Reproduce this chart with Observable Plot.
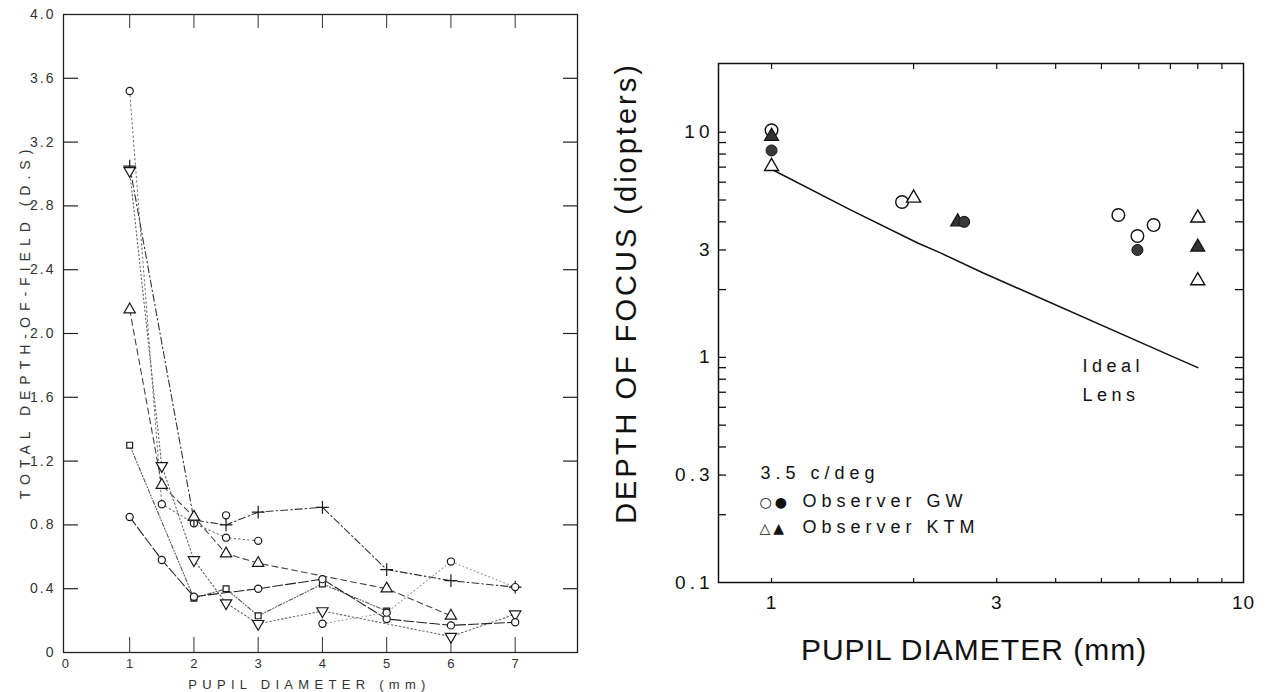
<!DOCTYPE html>
<html><head><meta charset="utf-8">
<script src="https://cdn.jsdelivr.net/npm/d3@7"></script>
<script src="https://cdn.jsdelivr.net/npm/@observablehq/plot@0.6"></script>
<style>
html,body{margin:0;padding:0;background:#fff;}
#wrap{position:relative;width:1269px;height:692px;overflow:hidden;background:#fff;}
#left{position:absolute;left:0;top:0;width:600px;height:692px;}
#right{position:absolute;left:600px;top:0;width:669px;height:692px;}
#left g[aria-label="y-axis tick label"] text{letter-spacing:2px;}
#left g[aria-label="x-axis tick label"] text{letter-spacing:0px;}
#left g[aria-description="ytitle"] text{letter-spacing:6px;}
#left g[aria-description="xtitle"] text{letter-spacing:5.3px;}
#right g[aria-label="y-axis tick label"] text{letter-spacing:4px;}
#right g[aria-label="x-axis tick label"] text{letter-spacing:1px;}
#right g[aria-description="ytitle"] text{letter-spacing:3px;}
#right g[aria-description="xtitle"] text{letter-spacing:1px;}
#right g[aria-description="legend"] text{letter-spacing:5px;}
#right g[aria-description="legendsym"] text{letter-spacing:3px;}
#right g[aria-description="ideal"] text{letter-spacing:4.5px;}
</style></head><body>
<div id="wrap"><div id="left"></div><div id="right"></div></div>
<script>
// ---------------- LEFT PANEL DATA ----------------
const pupilX = [1, 1.5, 2, 2.5, 3, 4, 5, 6, 7];
const subjA = [3.52, 0.93, 0.81, 0.72, 0.70, null, null, null, null];
const subjB = [3.05, null, 0.83, 0.80, 0.88, 0.91, 0.52, 0.45, 0.41];
const subjC = [2.15, 1.05, 0.85, 0.62, 0.56, null, 0.40, 0.23, null];
const subjD = [3.02, 1.17, 0.58, 0.31, 0.18, 0.26, null, 0.10, 0.24];
const subjE = [1.30, null, 0.34, 0.40, 0.23, 0.43, 0.26, null, null];
const subjF = [0.85, 0.58, 0.35, null, 0.40, 0.46, 0.21, 0.17, 0.19];
const subjG = [null, null, null, null, null, 0.18, 0.25, 0.57, 0.41];
const subjH = [null, null, null, 0.86, null, null, null, null, null];
const leftYTickVals = [0.4, 0.8, 1.2, 1.6, 2.0, 2.4, 2.8, 3.2, 3.6];
const leftYLabelVals = [0, 0.4, 0.8, 1.2, 1.6, 2.0, 2.4, 2.8, 3.2, 3.6, 4.0];
const leftXTickVals = [1, 2, 3, 4, 5, 6, 7];
const leftXLabelVals = [0, 1, 2, 3, 4, 5, 6, 7];
const leftYTitle = "TOTAL DEPTH-OF-FIELD (D.S)";
const leftXTitle = "PUPIL DIAMETER (mm)";

// ---------------- RIGHT PANEL DATA ----------------
const gwOpenX = [1, 1.89, 5.43, 5.96, 6.45];
const gwOpenY = [10.2, 4.9, 4.29, 3.46, 3.87];
const gwFilledX = [1, 2.56, 5.96];
const gwFilledY = [8.3, 4.0, 3.0];
const ktmOpenX = [1, 2.0, 8.0, 8.0];
const ktmOpenY = [7.05, 5.1, 4.16, 2.19];
const ktmFilledX = [1, 2.48, 8.0];
const ktmFilledY = [9.6, 4.0, 3.09];
const idealX = [1, 1.47, 2.04, 2.28, 2.81, 6.57, 8];
const idealY = [6.85, 4.52, 3.22, 2.91, 2.37, 1.08, 0.9];
const rightYMinor = [0.2,0.3,0.4,0.5,0.6,0.7,0.8,0.9,1,2,3,4,5,6,7,8,9,10];
const rightXMinor = [1,2,3,4,5,6,7,8,9];
const rightYLabelVals = [0.1, 0.3, 1, 3, 10];
const rightXLabelVals = [1, 3, 10];
const rightYTitle = "DEPTH OF FOCUS (diopters)";
const rightXTitle = "PUPIL DIAMETER (mm)";
const legendHead = "3.5 c/deg";
const legendNames = ["Observer GW", "Observer KTM"];
const legendSyms = ["○●", "△▲"];
const idealLabel = "Ideal\nLens";

// ---------------- helpers ----------------
const toPts = (vals) => pupilX.map((x, i) => ({x, y: vals[i]})).filter(d => d.y != null);
const zipPts = (xs, ys) => xs.map((x, i) => ({x, y: ys[i]}));
const triDown = {
  draw(ctx, size) {
    const s3 = Math.sqrt(3);
    const y = -Math.sqrt(size / (s3 * 3));
    ctx.moveTo(0, -y * 2);
    ctx.lineTo(-s3 * y, y);
    ctx.lineTo(s3 * y, y);
    ctx.closePath();
  }
};

// ---------------- LEFT PLOT ----------------
const L = {w: 600, h: 692, ml: 63, mr: 23, mt: 14, mb: 40};
const lfw = L.w - L.ml - L.mr, lfh = L.h - L.mt - L.mb;
const leftSeries = [
  {vals: subjA, symbol: "circle", dash: "1.5,3", stroke: "#777", r: 3.6},
  {vals: subjB, symbol: "plus", dash: "7,3,1.5,3", stroke: "#333", r: 4.2},
  {vals: subjC, symbol: "triangle", dash: "6,4", stroke: "#444", r: 4.2},
  {vals: subjD, symbol: triDown, dash: "1.5,2.5", stroke: "#666", r: 4.2},
  {vals: subjE, symbol: "square", dash: "4,2,1,2,1,2", stroke: "#555", r: 3.3},
  {vals: subjF, symbol: "circle", dash: "10,3", stroke: "#222", r: 3.6},
  {vals: subjG, symbol: "circle", dash: "1,3", stroke: "#999", r: 3.6},
  {vals: subjH, symbol: "circle", dash: "1,3", stroke: "#999", r: 3.6}
];
const leftFont = "Liberation Sans, Arial, sans-serif";
const leftMarks = [
  Plot.frame({stroke: "#222", strokeWidth: 1.3}),
  Plot.tickY(leftYTickVals, {y: d => d, insetRight: lfw - 15, stroke: "#222", strokeWidth: 1.2}),
  Plot.tickY(leftYTickVals, {y: d => d, insetLeft: lfw - 14, stroke: "#222", strokeWidth: 1.2}),
  Plot.tickX(leftXTickVals, {x: d => d, insetBottom: lfh - 14, stroke: "#333", strokeWidth: 1}),
  Plot.tickX(leftXTickVals, {x: d => d, insetTop: lfh - 15, stroke: "#333", strokeWidth: 1}),
  Plot.axisY({ticks: leftYLabelVals, tickFormat: d => d === 0 ? "0" : d.toFixed(1), tickSize: 0, tickPadding: 8, fontSize: 14, fill: "#333", label: null}),
  Plot.axisX({ticks: leftXLabelVals, tickFormat: d => String(d), tickSize: 0, tickPadding: 6, fontSize: 13, fill: "#333", label: null}),
];
for (const s of leftSeries) {
  const pts = toPts(s.vals);
  if (pts.length > 1) leftMarks.push(Plot.line(pts, {x: "x", y: "y", stroke: s.stroke, strokeWidth: 1.1, strokeDasharray: s.dash}));
}
for (const s of leftSeries) {
  leftMarks.push(Plot.dot(toPts(s.vals), {x: "x", y: "y", symbol: s.symbol, r: s.r, stroke: "#1a1a1a", strokeWidth: 1.2, fill: s.symbol === "plus" ? "none" : "white"}));
}
leftMarks.push(
  Plot.text([leftYTitle], {text: d => d, frameAnchor: "left", rotate: -90, dx: -38, dy: -12, fontSize: 14, fill: "#333", textAnchor: "middle", ariaDescription: "ytitle"}),
  Plot.text([leftXTitle], {text: d => d, frameAnchor: "bottom", dx: -11, dy: 32, fontSize: 13, fill: "#333", lineAnchor: "middle", ariaDescription: "xtitle"})
);
const leftPlot = Plot.plot({
  width: L.w, height: L.h,
  marginLeft: L.ml, marginRight: L.mr, marginTop: L.mt, marginBottom: L.mb,
  style: {fontFamily: leftFont, background: "white"},
  x: {domain: [-0.03, 7.97]},
  y: {domain: [0, 4]},
  marks: leftMarks
});
document.getElementById("left").appendChild(leftPlot);

// ---------------- RIGHT PLOT ----------------
const R = {w: 669, h: 692, ml: 118, mr: 26, mt: 63, mb: 110};
const rfw = R.w - R.ml - R.mr, rfh = R.h - R.mt - R.mb;
const rightFont = "Liberation Sans, Arial, sans-serif";
const rightPlot = Plot.plot({
  width: R.w, height: R.h,
  marginLeft: R.ml, marginRight: R.mr, marginTop: R.mt, marginBottom: R.mb,
  style: {fontFamily: rightFont, background: "white"},
  x: {type: "log", domain: [0.772, 10]},
  y: {type: "log", domain: [0.1, 20.2]},
  marks: [
    Plot.frame({stroke: "#111", strokeWidth: 1.5}),
    Plot.tickY(rightYMinor, {y: d => d, insetRight: rfw - 8, stroke: "#111", strokeWidth: 1.3}),
    Plot.tickY(rightYMinor, {y: d => d, insetLeft: rfw - 8, stroke: "#111", strokeWidth: 1.3}),
    Plot.tickX(rightXMinor, {x: d => d, insetBottom: rfh - 6, stroke: "#111", strokeWidth: 1.2}),
    Plot.tickX(rightXMinor, {x: d => d, insetTop: rfh - 4, stroke: "#111", strokeWidth: 1.2}),
    Plot.axisY({ticks: rightYLabelVals, tickFormat: d => String(d), tickSize: 0, tickPadding: 5, fontSize: 19, fill: "#111", label: null}),
    Plot.axisX({ticks: rightXLabelVals, tickFormat: d => String(d), tickSize: 0, tickPadding: 13, fontSize: 19, fill: "#111", label: null}),
    Plot.line(zipPts(idealX, idealY), {x: "x", y: "y", stroke: "#111", strokeWidth: 1.5}),
    Plot.dot(zipPts(gwOpenX, gwOpenY), {x: "x", y: "y", symbol: "circle", r: 6.3, stroke: "#111", strokeWidth: 1.4, fill: "white"}),
    Plot.dot(zipPts(ktmOpenX, ktmOpenY), {x: "x", y: "y", symbol: "triangle", r: 5.2, stroke: "#111", strokeWidth: 1.4, fill: "white"}),
    Plot.dot(zipPts(ktmFilledX, ktmFilledY), {x: "x", y: "y", symbol: "triangle", r: 5.2, stroke: "#111", strokeWidth: 1.2, fill: "#333"}),
    Plot.dot(zipPts(gwFilledX, gwFilledY), {x: "x", y: "y", symbol: "circle", r: 5.5, stroke: "#111", strokeWidth: 1, fill: "#3a3a3a"}),
    Plot.text([rightYTitle], {text: d => d, frameAnchor: "left", rotate: -90, dx: -92, dy: -30, fontSize: 29, fill: "#111", textAnchor: "middle", ariaDescription: "ytitle"}),
    Plot.text([rightXTitle], {text: d => d, frameAnchor: "bottom", dx: -7, dy: 68, fontSize: 30, fill: "#111", lineAnchor: "middle", ariaDescription: "xtitle"}),
    Plot.text([legendHead], {text: d => d, frameAnchor: "top-left", dx: 42, dy: 410, fontSize: 18, fill: "#111", textAnchor: "start", lineAnchor: "middle", ariaDescription: "legend"}),
    Plot.text([legendNames.join("\n")], {text: d => d, frameAnchor: "top-left", dx: 84, dy: 448, fontSize: 18, lineHeight: 1.44, fill: "#111", textAnchor: "start", lineAnchor: "middle", ariaDescription: "legend"}),
    Plot.text([legendSyms.join("\n")], {text: d => d, frameAnchor: "top-left", dx: 41, dy: 448, fontSize: 14, lineHeight: 1.86, fill: "#111", textAnchor: "start", lineAnchor: "middle", fontFamily: "DejaVu Sans", ariaDescription: "legendsym"}),
    Plot.text([idealLabel], {text: d => d, frameAnchor: "top-left", dx: 364, dy: 314, fontSize: 18, lineHeight: 1.6, fill: "#111", textAnchor: "start", lineAnchor: "middle", ariaDescription: "ideal"})
  ]
});
document.getElementById("right").appendChild(rightPlot);
</script>
</body></html>
